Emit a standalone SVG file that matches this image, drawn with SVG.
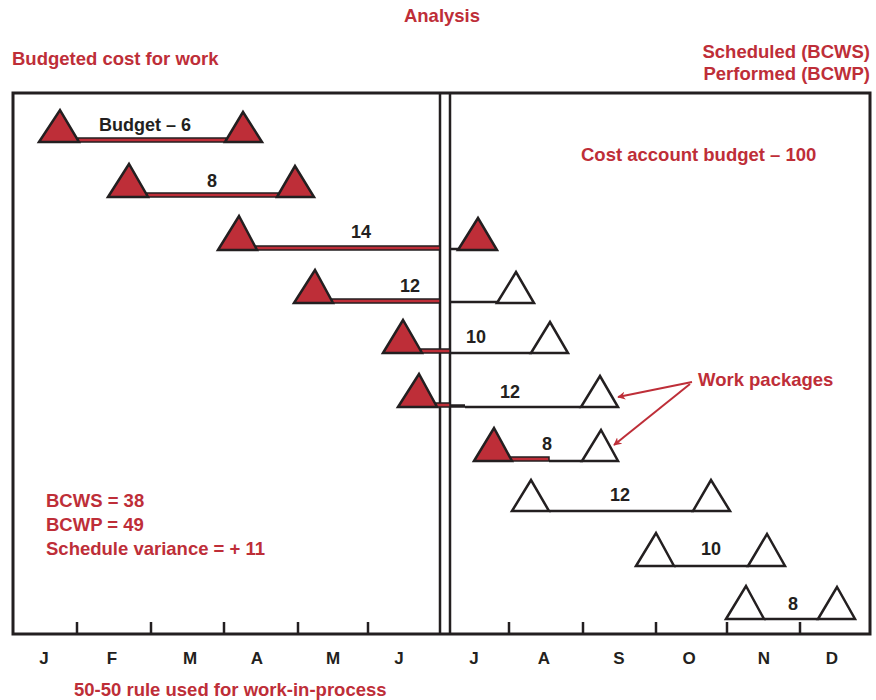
<svg xmlns="http://www.w3.org/2000/svg" width="876" height="700" viewBox="0 0 876 700">
<defs>
<style>
.t{font-family:"Liberation Sans",Arial,sans-serif;font-weight:bold;font-size:18.5px}
.r{fill:#be2e38}
.k{fill:#231f20}
.tr{fill:#be2e38;stroke:#231f20;stroke-width:2.5;stroke-linejoin:miter}
.tw{fill:#fff;stroke:#231f20;stroke-width:2.5;stroke-linejoin:miter}
.bar{fill:#be2e38;stroke:#231f20;stroke-width:1.5}
.ln{stroke:#231f20;stroke-width:2.5;fill:none}
.m{font-family:"Liberation Sans",Arial,sans-serif;font-weight:bold;font-size:18px;fill:#231f20;text-anchor:middle}
.mo{font-size:17px}
</style>
<marker id="ah" viewBox="0 0 10 10" refX="9" refY="5" markerWidth="8" markerHeight="8" orient="auto" markerUnits="userSpaceOnUse">
<path d="M0,0 L10,5 L0,10 L3,5 z" fill="#be2e38"/>
</marker>
</defs>
<rect width="876" height="700" fill="#fff"/>
<g id="titles">
<text class="t r" x="442" y="22" text-anchor="middle">Analysis</text>
<text class="t r" x="12" y="65">Budgeted cost for work</text>
<text class="t r" x="870" y="58" text-anchor="end">Scheduled (BCWS)</text>
<text class="t r" x="870" y="80" text-anchor="end">Performed (BCWP)</text>
<text class="t r" x="581" y="161">Cost account budget – 100</text>
<text class="t r" x="46" y="507">BCWS = 38</text>
<text class="t r" x="46" y="531">BCWP = 49</text>
<text class="t r" x="46" y="555">Schedule variance = + 11</text>
<text class="t r" x="74" y="696">50-50 rule used for work-in-process</text>
</g>
<g id="frame">
<rect x="13" y="93" width="857" height="541" fill="none" stroke="#231f20" stroke-width="3"/>
<line class="ln" x1="440" y1="93" x2="440" y2="634"/>
<line class="ln" x1="450" y1="93" x2="450" y2="634"/>
<g class="ln">
<line x1="77" y1="622" x2="77" y2="634"/><line x1="151" y1="622" x2="151" y2="634"/><line x1="224" y1="622" x2="224" y2="634"/><line x1="298" y1="622" x2="298" y2="634"/><line x1="368" y1="622" x2="368" y2="634"/>
<line x1="509" y1="622" x2="509" y2="634"/><line x1="583" y1="622" x2="583" y2="634"/><line x1="656" y1="622" x2="656" y2="634"/><line x1="727" y1="622" x2="727" y2="634"/><line x1="800" y1="622" x2="800" y2="634"/>
</g>
</g>
<g id="months">
<text class="m mo" x="44" y="664">J</text><text class="m mo" x="112" y="664">F</text><text class="m mo" x="190" y="664">M</text><text class="m mo" x="257" y="664">A</text><text class="m mo" x="333" y="664">M</text><text class="m mo" x="399" y="664">J</text>
<text class="m mo" x="474" y="664">J</text><text class="m mo" x="544" y="664">A</text><text class="m mo" x="619" y="664">S</text><text class="m mo" x="689" y="664">O</text><text class="m mo" x="764" y="664">N</text><text class="m mo" x="832" y="664">D</text>
</g>
<g id="wp1">
<rect class="bar" x="78" y="138" width="148" height="4"/>
<polygon class="tr" points="39,142 60,110 79,142"/>
<polygon class="tr" points="225,142 243,112 262,142"/>
<text class="m" x="145" y="131">Budget – 6</text>
</g>
<g id="wp2">
<rect class="bar" x="147" y="193" width="131" height="4"/>
<polygon class="tr" points="108,197 129,164 148,197"/>
<polygon class="tr" points="277,197 295,166 314,197"/>
<text class="m" x="212" y="187">8</text>
</g>
<g id="wp3">
<rect class="bar" x="256" y="246" width="184" height="4"/>
<line class="ln" x1="450" y1="249" x2="459" y2="249"/>
<polygon class="tr" points="218,250 239,216 257,250"/>
<polygon class="tr" points="458,250 478,218 497,250"/>
<text class="m" x="361" y="238">14</text>
</g>
<g id="wp4">
<rect class="bar" x="332" y="299" width="108" height="4"/>
<line class="ln" x1="450" y1="302" x2="498" y2="302"/>
<polygon class="tr" points="294,303 315,270 333,303"/>
<polygon class="tw" points="497,303 516,272 534,303"/>
<text class="m" x="410" y="292">12</text>
</g>
<g id="wp5">
<rect class="bar" x="421" y="349" width="29" height="4"/>
<line class="ln" x1="450" y1="353" x2="532" y2="353"/>
<polygon class="tr" points="383,353 403,320 422,353"/>
<polygon class="tw" points="531,353 550,322 568,353"/>
<text class="m" x="476" y="343">10</text>
</g>
<g id="wp6">
<rect class="bar" x="436" y="403" width="14" height="4"/>
<line x1="450" y1="406" x2="465" y2="406" stroke="#231f20" stroke-width="3.5"/>
<line class="ln" x1="465" y1="407" x2="581" y2="407"/>
<polygon class="tr" points="398,407 419,374 437,407"/>
<polygon class="tw" points="581,407 600,376 618,407"/>
<text class="m" x="510" y="398">12</text>
</g>
<g id="wp7">
<rect class="bar" x="510" y="457" width="39" height="4"/>
<line class="ln" x1="549" y1="461" x2="583" y2="461"/>
<polygon class="tr" points="474,461 494,428 512,461"/>
<polygon class="tw" points="582,461 601,430 618,461"/>
<text class="m" x="547" y="450">8</text>
</g>
<g id="wp8">
<line class="ln" x1="549" y1="511" x2="694" y2="511"/>
<polygon class="tw" points="512,511 531,480 549,511"/>
<polygon class="tw" points="693,511 711,480 730,511"/>
<text class="m" x="620" y="501">12</text>
</g>
<g id="wp9">
<line class="ln" x1="674" y1="566" x2="749" y2="566"/>
<polygon class="tw" points="636,566 656,533 674,566"/>
<polygon class="tw" points="748,566 767,534 785,566"/>
<text class="m" x="711" y="555">10</text>
</g>
<g id="wp10">
<line class="ln" x1="764" y1="619" x2="819" y2="619"/>
<polygon class="tw" points="726,619 746,586 764,619"/>
<polygon class="tw" points="818,619 837,587 855,619"/>
<text class="m" x="793" y="610">8</text>
</g>
<g id="connectors">
<line x1="692" y1="382" x2="618" y2="397" stroke="#be2e38" stroke-width="2" marker-end="url(#ah)"/>
<line x1="690" y1="384" x2="614" y2="445" stroke="#be2e38" stroke-width="2" marker-end="url(#ah)"/>
</g>
<text class="t r" x="698" y="386">Work packages</text>
</svg>
